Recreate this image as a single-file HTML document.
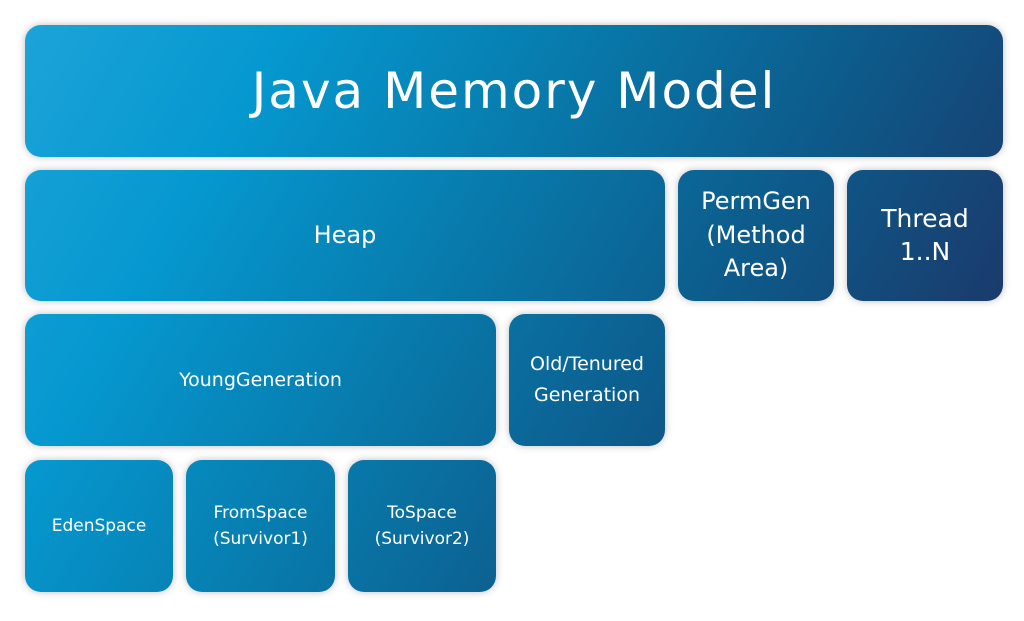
<!DOCTYPE html>
<html><head><meta charset="utf-8"><style>
html,body{margin:0;padding:0;background:#fff;width:1024px;height:621px;overflow:hidden}
.b{position:absolute;border-radius:16px;box-shadow:0 0 8px rgba(0,0,0,0.25);
background:linear-gradient(120deg,#1fa5db 0%,#0598cf 22%,#0878a9 45%,#0d5a8a 65%,#183f70 82%,#242a55 100%);
background-attachment:fixed;background-size:1024px 621px;
color:#fff;font-family:"DejaVu Sans","Liberation Sans",sans-serif;display:flex;align-items:center;justify-content:center;text-align:center;line-height:1.3}
</style></head><body>
<div class="b" style="left:25px;top:25px;width:978px;height:132px;font-size:50px;letter-spacing:2px">Java Memory Model</div>
<div class="b" style="left:25px;top:170px;width:640px;height:131px;font-size:24px">Heap</div>
<div class="b" style="left:678px;top:170px;width:156px;height:131px;font-size:24px;line-height:1.4">PermGen<br>(Method<br>Area)</div>
<div class="b" style="left:847px;top:170px;width:156px;height:131px;font-size:25px">Thread<br>1..N</div>
<div class="b" style="left:25px;top:314px;width:471px;height:132px;font-size:19px">YoungGeneration</div>
<div class="b" style="left:509px;top:314px;width:156px;height:132px;font-size:19px;line-height:1.65">Old/Tenured<br>Generation</div>
<div class="b" style="left:25px;top:460px;width:148px;height:132px;font-size:17px">EdenSpace</div>
<div class="b" style="left:186px;top:460px;width:149px;height:132px;font-size:17px;line-height:1.55">FromSpace<br>(Survivor1)</div>
<div class="b" style="left:348px;top:460px;width:148px;height:132px;font-size:17px;line-height:1.55">ToSpace<br>(Survivor2)</div>
</body></html>
